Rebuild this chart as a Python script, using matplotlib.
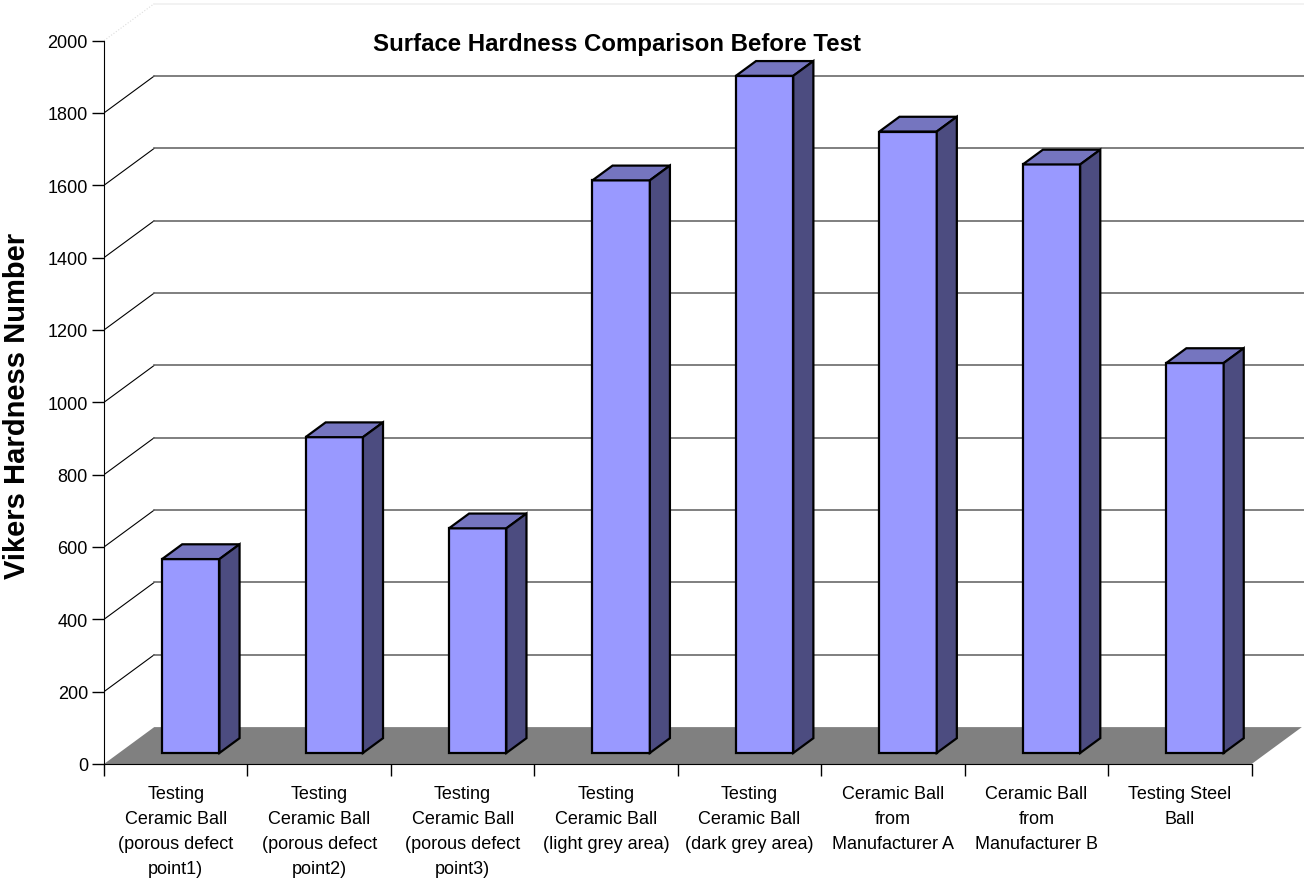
from pathlib import Path

import matplotlib.pyplot as plt
from matplotlib.patches import Polygon

plt.rcParams["font.family"] = ["Liberation Sans", "DejaVu Sans"]

CATEGORIES = [
    "Testing\nCeramic Ball\n(porous defect\npoint1)",
    "Testing\nCeramic Ball\n(porous defect\npoint2)",
    "Testing\nCeramic Ball\n(porous defect\npoint3)",
    "Testing\nCeramic Ball\n(light grey area)",
    "Testing\nCeramic Ball\n(dark grey area)",
    "Ceramic Ball\nfrom\nManufacturer A",
    "Ceramic Ball\nfrom\nManufacturer B",
    "Testing Steel\nBall",
]
HARDNESS = [536, 873, 621, 1583, 1872, 1718, 1627, 1078]
Y_TICKS = list(range(0, 2001, 200))

TITLE = "Surface Hardness Comparison Before Test"
Y_LABEL = "Vikers Hardness Number"

# pseudo-3d depth of the chart box (in category units / value units)
DEPTH_X = 0.35
DEPTH_Y = 102
BAR_WIDTH = 0.4
BAR_FRONT = 0.3   # fraction of depth where a bar's front face sits
BAR_DEPTH = 0.4   # fraction of depth taken by a bar

FRONT_COLOR = "#9999FF"
TOP_COLOR = "#7575BF"
SIDE_COLOR = "#4C4C80"
FLOOR_COLOR = "#808080"


def plot_hardness_comparison() -> Path:
    """
    Draw an Excel-style 3D column chart of the hardness values.
    """
    output_path = Path("out.png")

    figure = plt.figure(figsize=(13.04, 8.79), dpi=100)
    axis = figure.add_axes([104 / 1304, 114 / 879, 1200 / 1304, 765 / 879])

    n = len(CATEGORIES)
    axis.set_xlim(0, 8.365)
    axis.set_ylim(0, 2115)

    # back wall gridlines and side wall diagonals
    for value in Y_TICKS[1:]:
        faint = value == Y_TICKS[-1]
        axis.plot(
            [0, DEPTH_X],
            [value, value + DEPTH_Y],
            color="#dddddd" if faint else "black",
            linewidth=0.8,
            linestyle=":" if faint else "-",
            zorder=1,
        )
        axis.plot(
            [DEPTH_X, 8.365],
            [value + DEPTH_Y, value + DEPTH_Y],
            color="#f0f0f0" if faint else "#6a6a6a",
            linewidth=1.2,
            zorder=1,
        )

    # floor
    axis.add_patch(
        Polygon(
            [(0, 0), (DEPTH_X, DEPTH_Y), (n + DEPTH_X, DEPTH_Y), (n, 0)],
            closed=True,
            facecolor=FLOOR_COLOR,
            edgecolor="none",
            zorder=2,
        )
    )

    dx = BAR_DEPTH * DEPTH_X
    dy = BAR_DEPTH * DEPTH_Y
    for index, value in enumerate(HARDNESS):
        x0 = index + (1 - BAR_WIDTH) / 2 + BAR_FRONT * DEPTH_X
        y0 = BAR_FRONT * DEPTH_Y
        x1 = x0 + BAR_WIDTH
        top = y0 + value
        faces = [
            ([(x0, y0), (x1, y0), (x1, top), (x0, top)], FRONT_COLOR),
            ([(x0, top), (x1, top), (x1 + dx, top + dy), (x0 + dx, top + dy)],
             TOP_COLOR),
            ([(x1, y0), (x1 + dx, y0 + dy), (x1 + dx, top + dy), (x1, top)],
             SIDE_COLOR),
        ]
        for corners, color in faces:
            axis.add_patch(
                Polygon(
                    corners,
                    closed=True,
                    facecolor=color,
                    edgecolor="black",
                    linewidth=1.6,
                    joinstyle="miter",
                    zorder=3,
                )
            )

    for side in ["top", "right"]:
        axis.spines[side].set_visible(False)
    axis.spines["left"].set_bounds(0, 2000)
    axis.spines["bottom"].set_bounds(0, n)
    axis.spines["left"].set_zorder(4)
    axis.spines["bottom"].set_zorder(4)

    axis.set_yticks(Y_TICKS)
    axis.tick_params(axis="y", direction="out", length=8.6, width=1,
                     labelsize=13, pad=3)

    axis.set_xticks(range(n + 1))
    axis.set_xticklabels([])
    axis.set_xticks([i + 0.5 for i in range(n)], minor=True)
    axis.set_xticklabels(CATEGORIES, minor=True, fontsize=13,
                         linespacing=1.62)
    axis.tick_params(axis="x", which="major", direction="out",
                     length=8.6, width=1)
    axis.tick_params(axis="x", which="minor", length=0, pad=15)

    axis.set_ylabel(Y_LABEL, fontsize=21, fontweight="bold")
    axis.yaxis.set_label_coords(-0.061, 0.47)

    figure.text(617 / 1304, 1 - 45 / 879, TITLE, fontsize=17.3,
                fontweight="bold", ha="center", va="center")

    figure.savefig(output_path, dpi=100)
    plt.close(figure)

    return output_path


if __name__ == "__main__":
    plot_hardness_comparison()
